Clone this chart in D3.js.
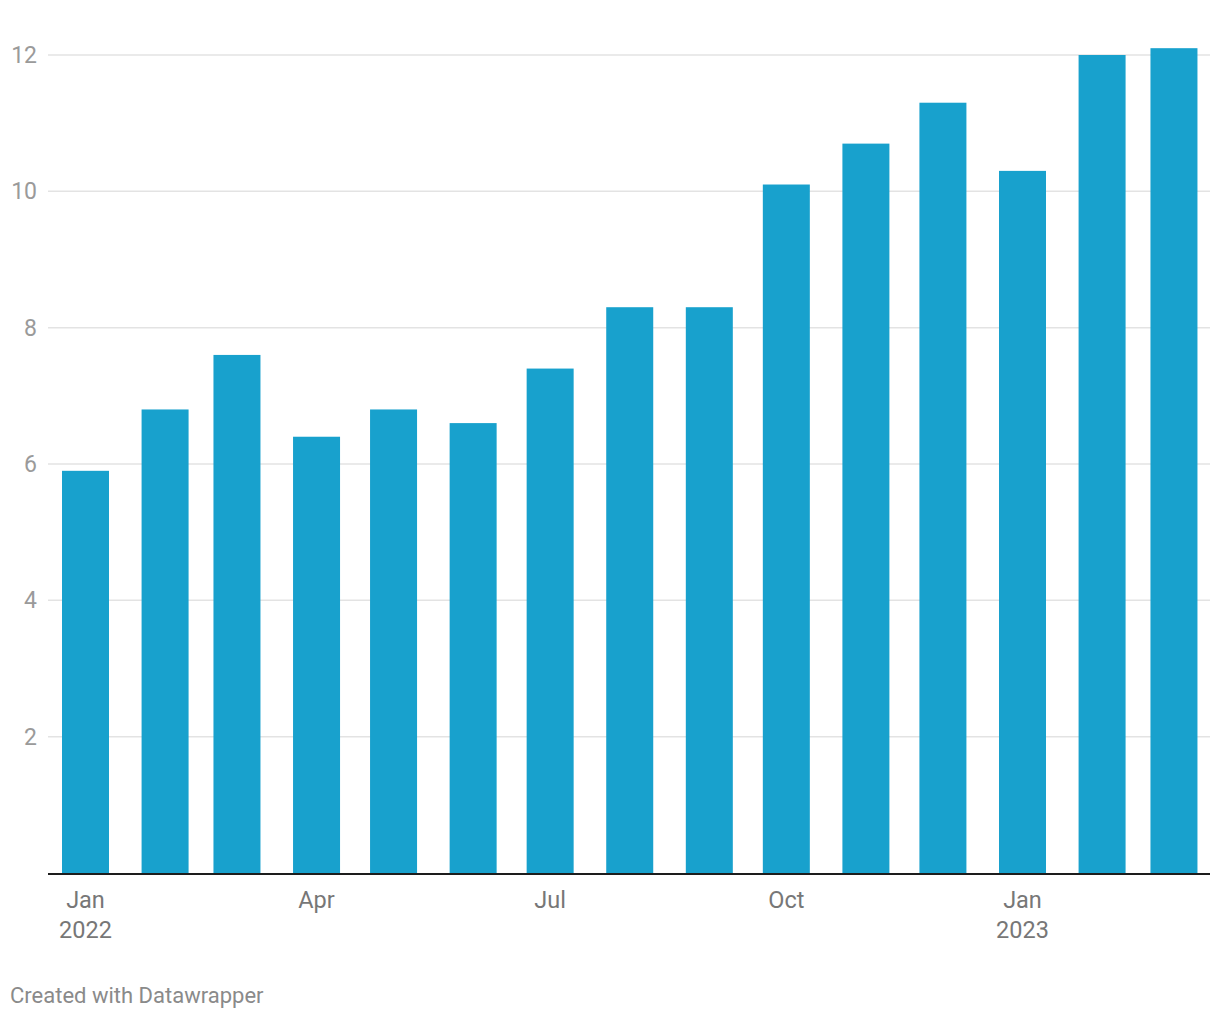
<!DOCTYPE html>
<html><head><meta charset="utf-8">
<script src="https://cdn.jsdelivr.net/npm/d3@7"></script>
<style>body{margin:0;background:#fff;font-family:Roboto,sans-serif}</style>
</head><body><svg id="c" width="1220" height="1020"></svg>
<script>
const months = ["2022-01","2022-02","2022-03","2022-04","2022-05","2022-06","2022-07","2022-08","2022-09","2022-10","2022-11","2022-12","2023-01","2023-02","2023-03"];
const values = [5.9,6.8,7.6,6.4,6.8,6.6,7.4,8.3,8.3,10.1,10.7,11.3,10.3,12.0,12.1];
const yTicks = [2,4,6,8,10,12];
const xTickDates = ["2022-01","2022-04","2022-07","2022-10","2023-01"];
const xTickLabels = [["Jan","2022"],["Apr"],["Jul"],["Oct"],["Jan","2023"]];

const parse = d3.timeParse("%Y-%m");
const svg = d3.select("#c");
const x = d3.scaleTime().domain([parse("2022-01"), parse("2023-01")]).range([85.5, 1022.5]);
const y = d3.scaleLinear().domain([0, 12]).range([873, 55]);
const barW = 47;

svg.append("g").selectAll("line").data(yTicks).join("line")
  .attr("x1", 48).attr("x2", 1210).attr("y1", d => y(d)).attr("y2", d => y(d))
  .attr("stroke", "#e3e3e3").attr("stroke-width", 1.5);
svg.append("g").selectAll("text").data(yTicks).join("text")
  .attr("x", 37).attr("y", d => y(d)).attr("dy", "0.35em").attr("text-anchor", "end")
  .attr("font-size", 23).attr("fill", "#9a9a9a").text(d => d);

svg.append("g").selectAll("rect").data(months).join("rect")
  .attr("x", (d) => x(parse(d)) - barW/2).attr("width", barW)
  .attr("y", (d,i) => y(values[i])).attr("height", (d,i) => y(0) - y(values[i]))
  .attr("fill", "#18a1cd");

svg.append("line").attr("x1", 48).attr("x2", 1210).attr("y1", 874).attr("y2", 874)
  .attr("stroke", "#1d1d1d").attr("stroke-width", 2);

const xt = svg.append("g").selectAll("text").data(xTickDates).join("text")
  .attr("x", d => x(parse(d))).attr("y", 908).attr("text-anchor", "middle")
  .attr("font-size", 23.5).attr("fill", "#777");
xt.each(function(d, i){
  const t = d3.select(this);
  xTickLabels[i].forEach((s, j) => t.append("tspan").attr("x", x(parse(d))).attr("dy", j ? 30 : 0).text(s));
});

svg.append("text").attr("x", 10).attr("y", 1003).attr("font-size", 22).attr("fill", "#8a8a8a")
  .text("Created with Datawrapper");
</script></body></html>
